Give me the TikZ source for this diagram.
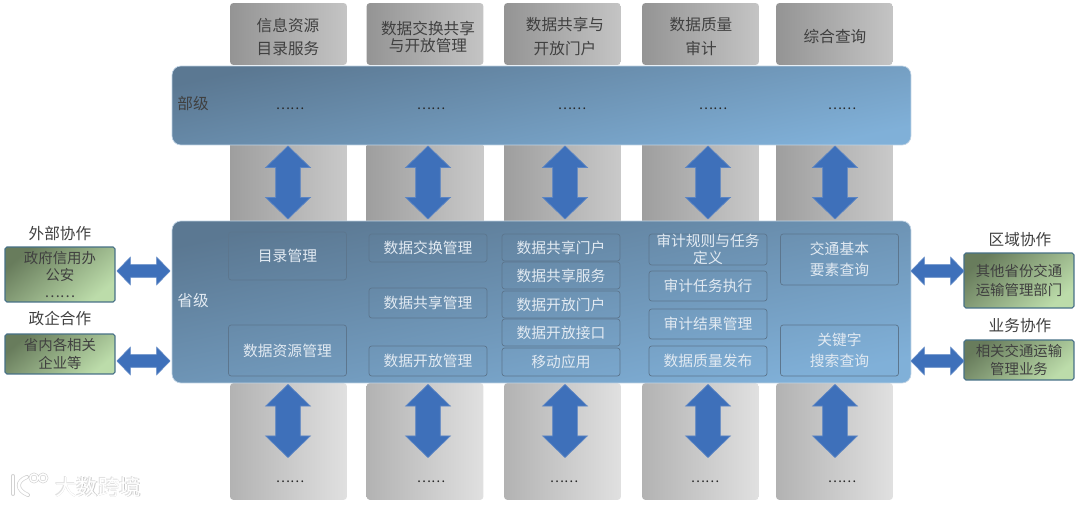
\documentclass[tikz,border=0pt]{standalone}
\usepackage{fontspec}
\setmainfont{Noto Sans CJK SC}
\usepackage{xcolor}
\usetikzlibrary{shapes.arrows,shadings}
\definecolor{paneldark}{RGB}{91,120,146}
\definecolor{panellight}{RGB}{128,176,216}
\definecolor{panelline}{RGB}{190,210,228}
\definecolor{itemline}{RGB}{92,118,142}
\definecolor{itemtext}{RGB}{226,234,242}
\definecolor{arrowblue}{RGB}{62,112,186}
\definecolor{greendark}{RGB}{104,124,92}
\definecolor{greenlight}{RGB}{188,220,170}
\definecolor{greenline}{RGB}{70,112,134}
\definecolor{inktext}{RGB}{64,64,64}

\begin{document}
\begin{tikzpicture}[
    x=0.02cm, y=-0.02cm,
    tiletop/.style={rectangle, rounded corners=2pt, inner sep=0pt, minimum width=2.34cm, minimum height=1.24cm, left color=black!42, right color=black!23},
    tilemid/.style={rectangle, inner sep=0pt, minimum width=2.34cm, minimum height=1.54cm, left color=black!38, right color=black!21},
    tilelow/.style={rectangle, rounded corners=2pt, inner sep=0pt, minimum width=2.34cm, minimum height=2.34cm, left color=black!30, right color=black!12},
    panel/.style={rectangle, draw=panelline, rounded corners=5pt, inner sep=0pt, minimum width=14.78cm, top color=paneldark, bottom color=panellight, shading angle=12},
    item/.style={rectangle, draw=itemline, rounded corners=1.5pt, inner sep=0pt, minimum width=2.36cm, align=center, text=itemtext, font=\fontsize{8.4}{11}\selectfont},
    partner/.style={rectangle, draw=greenline, semithick, rounded corners=1pt, inner sep=0pt, minimum width=2.2cm, align=center, text=black!75, top color=greendark, bottom color=greenlight, shading angle=40, font=\fontsize{8.2}{10.6}\selectfont},
    vlink/.style={double arrow, draw=arrowblue!85!white, fill=arrowblue, rotate=90, inner xsep=0pt, inner ysep=0.24cm, minimum height=1.46cm, minimum width=0.88cm, double arrow head extend=0.2cm, double arrow tip angle=92},
    hlink/.style={double arrow, draw=arrowblue!85!white, fill=arrowblue, inner xsep=0pt, inner ysep=0.12cm, minimum height=1.06cm, minimum width=0.54cm, double arrow head extend=0.15cm, double arrow tip angle=92},
    title/.style={align=center, text=inktext, font=\fontsize{8.9}{13.6}\selectfont},
    dots/.style={text=black!85, yshift=-1.5pt, font=\fontsize{7.6}{9}\selectfont},
    markline/.style={draw=white, line width=1.5pt, line cap=round},
    markhalo/.style={draw=black!18, line width=2.3pt, line cap=round}
]
\useasboundingbox (0,0) rectangle (1080,506);

% Grey columns behind the two levels
\node[tiletop] (top1) at (288.5,34) {};
\node[tiletop] (top2) at (425,34) {};
\node[tiletop] (top3) at (562.5,34) {};
\node[tiletop] (top4) at (700.5,34) {};
\node[tiletop] (top5) at (834.5,34) {};

\node[tilemid] (mid1) at (288.5,183.5) {};
\node[tilemid] (mid2) at (425,183.5) {};
\node[tilemid] (mid3) at (562.5,183.5) {};
\node[tilemid] (mid4) at (700.5,183.5) {};
\node[tilemid] (mid5) at (834.5,183.5) {};

\node[tilelow] (low1) at (288.5,441.5) {};
\node[tilelow] (low2) at (425,441.5) {};
\node[tilelow] (low3) at (562.5,441.5) {};
\node[tilelow] (low4) at (700.5,441.5) {};
\node[tilelow] (low5) at (834.5,441.5) {};

% Column titles
\node[title] (title1) at (288,37) {信息资源\\目录服务};
\node[title, font=\fontsize{8.9}{9.6}\selectfont] (title2) at (428,37) {数据交换共享\\与开放管理};
\node[title] (title3) at (565,37) {数据共享与\\开放门户};
\node[title] (title4) at (701,37) {数据质量\\审计};
\node[title] (title5) at (835,37) {综合查询};

% Top level
\node[panel, minimum height=1.58cm] (national) at (541.5,105.5) {};
\node[title] (nationallabel) at (193,104) {部级};
\node[dots] (ndots1) at (290,106) {……};
\node[dots] (ndots2) at (431,106) {……};
\node[dots] (ndots3) at (572,106) {……};
\node[dots] (ndots4) at (713,106) {……};
\node[dots] (ndots5) at (842,106) {……};

% Arrows between the levels
\node[vlink] (up1) at (288,182.5) {};
\node[vlink] (up2) at (428,182.5) {};
\node[vlink] (up3) at (565,182.5) {};
\node[vlink] (up4) at (708,182.5) {};
\node[vlink] (up5) at (835,182.5) {};

% Provincial level
\node[panel, minimum height=3.24cm] (province) at (541.5,302) {};
\node[title, text=itemtext] (provincelabel) at (193,301) {省级};

\node[item, minimum height=0.96cm] (dir) at (287.5,256) {目录管理};
\node[item, minimum height=1.02cm] (res) at (287.5,350.5) {数据资源管理};

\node[item, minimum height=0.56cm] (exch) at (428,248) {数据交换管理};
\node[item, minimum height=0.6cm] (share) at (428,303) {数据共享管理};
\node[item, minimum height=0.6cm] (open) at (428,361) {数据开放管理};

\node[item, minimum height=0.54cm] (portal) at (561,247.5) {数据共享门户};
\node[item, minimum height=0.54cm] (service) at (561,275.5) {数据共享服务};
\node[item, minimum height=0.54cm] (openportal) at (561,304.5) {数据开放门户};
\node[item, minimum height=0.54cm] (api) at (561,332.5) {数据开放接口};
\node[item, minimum height=0.56cm] (mobile) at (561,362) {移动应用};

\node[item, minimum height=0.62cm, font=\fontsize{8.4}{9.4}\selectfont] (rules) at (708,249.5) {审计规则与任务\\定义};
\node[item, minimum height=0.6cm] (exec) at (708,286) {审计任务执行};
\node[item, minimum height=0.6cm] (result) at (708,324) {审计结果管理};
\node[item, minimum height=0.6cm] (publish) at (708,361) {数据质量发布};

\node[item, minimum height=1.02cm, font=\fontsize{8.4}{12.2}\selectfont] (basic) at (839.5,259.5) {交通基本\\要素查询};
\node[item, minimum height=1.02cm, font=\fontsize{8.4}{12.2}\selectfont] (keyword) at (839.5,350.5) {关键字\\搜索查询};

% Arrows below the provincial level
\node[vlink] (down1) at (288,421) {};
\node[vlink] (down2) at (428,421) {};
\node[vlink] (down3) at (565,421) {};
\node[vlink] (down4) at (708,421) {};
\node[vlink] (down5) at (835,421) {};

\node[dots] (bdots1) at (290,479) {……};
\node[dots] (bdots2) at (431,479) {……};
\node[dots] (bdots3) at (564,479) {……};
\node[dots] (bdots4) at (705,479) {……};
\node[dots] (bdots5) at (842,479) {……};

% Left partners
\node[title] (extlabel) at (60,234) {外部协作};
\node[partner, minimum height=1.1cm, font=\fontsize{8.2}{9.8}\selectfont] (ext) at (60,274.5) {政府信用办\\公安\\……};
\node[title] (entlabel) at (60,319) {政企合作};
\node[partner, minimum height=0.8cm] (ent) at (60,354) {省内各相关\\企业等};
\node[hlink] (extlink) at (143.5,271) {};
\node[hlink] (entlink) at (143.5,361) {};

% Right partners
\node[title] (regionlabel) at (1020,240) {区域协作};
\node[partner, minimum height=1.1cm] (region) at (1019,280.5) {其他省份交通\\运输管理部门};
\node[title] (bizlabel) at (1020,326) {业务协作};
\node[partner, minimum height=0.8cm] (biz) at (1019,360) {相关交通运输\\管理业务};
\node[hlink] (regionlink) at (937.5,271) {};
\node[hlink] (bizlink) at (937.5,361) {};

% Watermark
\draw[markhalo] (13,476) -- (13,494);
\draw[markhalo] (27,477) .. controls (16,481) and (16,490) .. (28,495);
\draw[markhalo, line width=1.5pt] (34,478) circle (4) (43,478) circle (4);
\draw[markline] (13,476) -- (13,494);
\draw[markline] (27,477) .. controls (16,481) and (16,490) .. (28,495);
\draw[markline, line width=0.8pt] (34,478) circle (4) (43,478) circle (4);
\node[text=black!22, font=\fontsize{12.2}{14}\selectfont] (markshadow) at (98.6,487.6) {大数跨境};
\node[text=black!12, font=\fontsize{12.2}{14}\selectfont] (markglow) at (97.4,486.4) {大数跨境};
\node[text=white, font=\fontsize{12.2}{14}\selectfont] (mark) at (98,487) {大数跨境};

\end{tikzpicture}
\end{document}
